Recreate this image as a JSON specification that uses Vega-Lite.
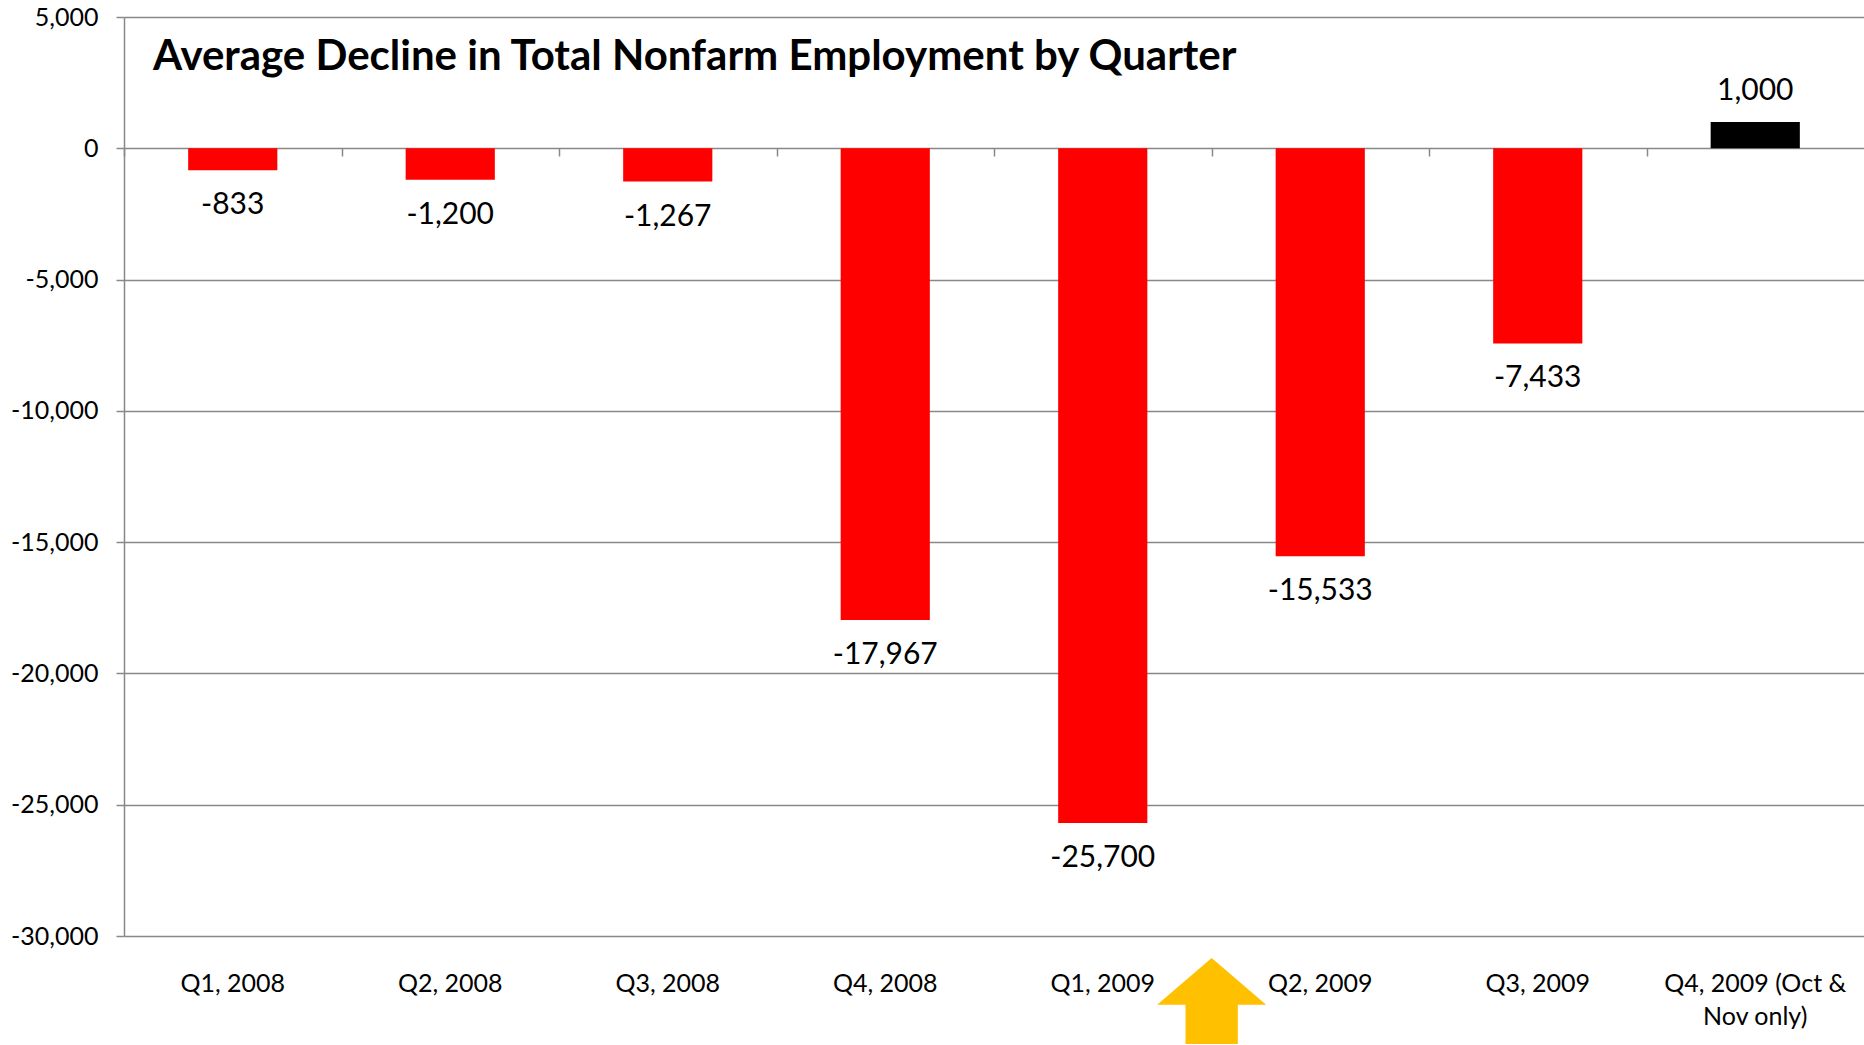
{
  "$schema": "https://vega.github.io/schema/vega-lite/v6.json",
  "width": 1740,
  "height": 919,
  "autosize": {"type": "none"},
  "padding": {"left": 124, "top": 17, "right": 0, "bottom": 109},
  "background": "white",
  "config": {
    "view": {"stroke": null},
    "font": "Lato",
    "locale": {"number": {"decimal": ".", "thousands": ",", "grouping": [3], "currency": ["$", ""], "minus": "-"}}
  },
  "title": {
    "text": "Average Decline in Total Nonfarm Employment by Quarter",
    "anchor": "start",
    "frame": "group",
    "font": "Lato",
    "fontSize": 42,
    "fontWeight": "bold",
    "color": "black",
    "baseline": "alphabetic",
    "dx": 29,
    "dy": 55,
    "offset": -52
  },
  "datasets": {
    "jobs": [
      {"quarter": "Q1, 2008", "value": -833},
      {"quarter": "Q2, 2008", "value": -1200},
      {"quarter": "Q3, 2008", "value": -1267},
      {"quarter": "Q4, 2008", "value": -17967},
      {"quarter": "Q1, 2009", "value": -25700},
      {"quarter": "Q2, 2009", "value": -15533},
      {"quarter": "Q3, 2009", "value": -7433},
      {"quarter": "Q4, 2009 (Oct & Nov only)", "value": 1000}
    ],
    "marker": [
      {"quarter": "Q2, 2009", "value": -30000}
    ]
  },
  "resolve": {"axis": {"x": "independent"}},
  "layer": [
    {
      "data": {"name": "jobs"},
      "mark": {"type": "bar"},
      "encoding": {
        "x": {
          "field": "quarter", "type": "nominal", "sort": null,
          "scale": {"paddingInner": 0.59, "paddingOuter": 0.295},
          "axis": {
            "orient": "bottom", "title": null, "domain": false, "ticks": false,
            "labelAngle": 0, "labelFont": "Lato", "labelFontSize": 25, "labelColor": "black",
            "labelPadding": 47, "labelLineHeight": 33, "labelBaseline": "middle", "labelLimit": 400,
            "labelExpr": "length(datum.value) > 12 ? ['Q4, 2009 (Oct &', 'Nov only)'] : datum.value"
          }
        },
        "y": {
          "field": "value", "type": "quantitative",
          "scale": {"domain": [-30000, 5000], "nice": false, "zero": false},
          "axis": {
            "title": null, "values": [-30000, -25000, -20000, -15000, -10000, -5000, 0, 5000],
            "format": ",.0f", "grid": true, "gridColor": "#888888", "gridWidth": 1.5,
            "domainColor": "#888888", "domainWidth": 1.5, "tickColor": "#888888", "tickWidth": 1.5,
            "tickSize": 8, "labelFont": "Lato", "labelFontSize": 25, "labelColor": "black",
            "labelPadding": 18
          }
        },
        "color": {"condition": {"test": "datum.value > 0", "value": "#000000"}, "value": "#FF0000"}
      }
    },
    {
      "data": {"name": "jobs"},
      "transform": [{"filter": "datum.value < 0"}],
      "mark": {"type": "text", "baseline": "middle", "align": "center", "dy": 35, "font": "Lato", "fontSize": 30, "color": "black"},
      "encoding": {
        "x": {
          "field": "quarter", "type": "nominal", "sort": null,
          "axis": {
            "orient": "top", "offset": -139, "title": null, "labels": false, "domain": false,
            "ticks": true, "tickOffset": -108.75, "tickSize": 8, "tickColor": "#888888", "tickWidth": 1.5
          }
        },
        "y": {"field": "value", "type": "quantitative"},
        "text": {"field": "value", "type": "quantitative", "format": ",.0f"}
      }
    },
    {
      "data": {"name": "jobs"},
      "transform": [{"filter": "datum.value > 0"}],
      "mark": {"type": "text", "baseline": "middle", "align": "center", "dy": -31, "font": "Lato", "fontSize": 30, "color": "black"},
      "encoding": {
        "x": {"field": "quarter", "type": "nominal", "sort": null, "axis": null},
        "y": {"field": "value", "type": "quantitative"},
        "text": {"field": "value", "type": "quantitative", "format": ",.0f"}
      }
    },
    {
      "data": {"name": "marker"},
      "mark": {
        "type": "point", "filled": true, "clip": false, "opacity": 1,
        "shape": "M0,-0.79L1,0.07L0.48,0.07L0.48,0.79L-0.48,0.79L-0.48,0.07L-1,0.07Z",
        "size": 11881, "color": "#FFC000", "strokeWidth": 0, "yOffset": 65, "xOffset": -64
      },
      "encoding": {
        "x": {"field": "quarter", "type": "nominal", "sort": null, "bandPosition": 0, "axis": null},
        "y": {"field": "value", "type": "quantitative"}
      }
    }
  ]
}
